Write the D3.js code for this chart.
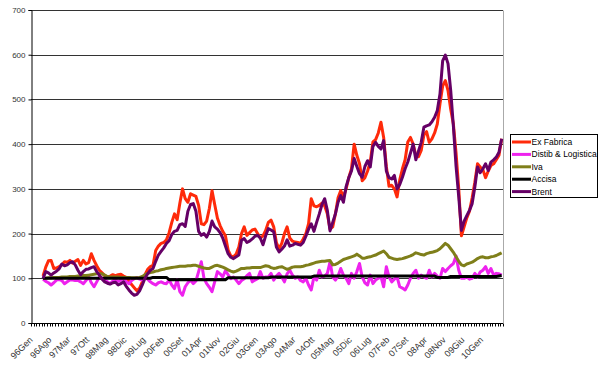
<!DOCTYPE html>
<html>
<head>
<meta charset="utf-8">
<script src="https://cdn.jsdelivr.net/npm/d3@7"></script>
<style>
  body { margin: 0; background: #fff; }
  svg text { font-family: "Liberation Sans", Arial, sans-serif; }
</style>
</head>
<body>
<div id="chart"></div>
<script>
// monthly index, 96Gen = 0, last month = 175 (10Ago)
var nMonths = 176;
var firstMonth = 4;

var tickLabels = ["96Gen","96Ago","97Mar","97Ott","98Mag","98Dic","99Lug","00Feb","00Set",
                  "01Apr","01Nov","02Giu","03Gen","03Ago","04Mar","04Ott","05Mag","05Dic",
                  "06Lug","07Feb","07Set","08Apr","08Nov","09Giu","10Gen"];
var yTicks = [0,100,200,300,400,500,600,700];

var seriesNames = ["Ex Fabrica","Distib & Logistica","Iva","Accisa","Brent"];
var seriesColors = ["#ff2a0a","#ee22ee","#7f7f1a","#000000","#660066"];

var exFabrica = [
 105,125,139,140,122,123,126,130,137,136,140,134,
 138,142,129,140,132,135,155,140,128,118,112,106,
 103,105,108,106,108,109,105,102,95,86,79,72,
 78,92,108,120,126,129,162,172,178,180,186,202,
 225,244,231,268,300,278,270,289,286,283,263,222,
 220,228,256,296,265,235,218,205,195,163,150,148,
 154,170,200,215,196,202,208,210,200,190,195,207,
 225,230,215,180,166,178,200,215,190,183,181,180,
 178,188,200,222,278,262,260,263,268,262,244,210,
 215,244,280,296,282,300,325,345,400,375,356,318,
 325,340,360,405,410,425,449,415,350,306,308,300,
 282,320,345,365,405,415,400,375,372,386,420,428,
 404,412,425,445,490,530,542,520,478,445,380,300,
 195,215,235,250,280,315,356,349,343,325,340,352,
 356,365,375,412];

var distib = [
 98,93,90,85,90,96,97,95,88,92,96,96,
 95,95,92,88,95,103,90,81,92,103,100,97,
 92,88,94,97,93,96,100,92,88,95,99,102,
 98,96,103,98,92,88,85,90,92,89,88,96,
 85,77,97,70,62,81,90,96,88,94,115,137,
 100,88,80,70,92,115,110,103,117,108,99,103,
 96,88,95,99,106,111,92,96,99,115,100,103,
 103,111,96,105,111,103,92,110,118,107,100,103,
 95,92,100,85,74,103,96,118,103,105,111,137,
 103,96,105,122,107,100,88,111,100,115,133,103,
 90,85,107,88,96,100,103,81,126,103,92,98,
 103,81,78,74,85,100,111,118,100,107,103,100,
 118,103,111,105,100,122,115,122,128,133,150,118,
 100,100,103,98,100,111,103,114,118,126,111,122,
 107,111,110,107];

var iva = [
 100,100,101,101,102,102,102,103,103,103,104,104,
 104,105,105,106,106,107,108,109,110,110,110,107,
 104,103,103,103,103,102,102,102,102,101,101,101,
 102,104,108,111,113,114,116,117,119,120,122,123,
 124,125,126,127,127,127,128,128,129,129,127,125,
 123,122,122,125,128,129,127,125,122,119,116,114,
 116,119,122,122,123,123,124,124,124,124,126,128,
 127,124,122,123,125,126,123,120,122,125,126,126,
 126,127,129,130,132,134,136,137,138,138,139,140,
 130,131,134,138,142,144,146,148,150,154,150,145,
 145,147,148,150,152,155,158,161,155,147,145,143,
 142,143,144,146,148,150,153,157,155,153,152,155,
 157,158,160,162,166,172,178,174,166,158,148,138,
 130,128,132,134,136,140,144,147,148,146,146,148,
 149,151,154,157];

var accisa = [
 100,100,100,100,100,100,100,100,100,100,100,100,
 100,100,100,100,100,100,100,100,100,100,100,100,
 100,100,100,100,100,100,100,100,100,100,100,100,
 100,100,100,100,100,102,102,102,102,102,102,97,
 97,97,97,97,97,97,97,97,97,97,97,97,
 97,97,97,97,97,97,97,97,97,101,101,101,
 101,101,101,101,101,101,101,101,101,101,101,101,
 101,103,103,103,103,103,103,103,103,103,103,103,
 103,103,103,103,103,105,105,105,105,105,105,105,
 105,105,105,105,105,105,105,105,105,105,105,105,
 105,105,105,105,105,105,105,105,105,105,105,105,
 105,105,105,105,105,105,105,105,105,105,105,105,
 105,105,105,102,102,102,102,102,104,104,104,104,
 104,104,104,104,104,104,104,104,104,104,104,104,
 104,104,105,106];

var brent = [
 100,115,112,107,112,116,121,132,128,130,135,137,
 130,118,108,115,120,121,124,126,115,107,98,92,
 89,87,90,91,85,88,92,82,74,67,62,64,
 72,85,100,110,118,122,138,152,160,168,178,184,
 198,205,207,220,222,216,250,265,267,250,205,196,
 200,192,205,228,215,210,202,190,172,155,147,144,
 148,152,185,189,180,183,188,194,196,190,175,195,
 211,208,204,170,159,165,172,186,172,174,178,176,
 174,180,194,210,222,205,225,244,265,278,252,206,
 225,244,270,285,270,305,325,340,368,350,334,326,
 350,363,349,395,404,395,389,408,340,325,322,330,
 300,310,326,345,360,380,400,365,385,404,438,441,
 443,450,460,475,512,586,599,580,520,440,350,282,
 207,228,240,252,267,304,349,336,345,356,341,360,
 365,371,382,412];

var seriesData = [exFabrica, distib, iva, accisa, brent];

var W = 604, H = 365;
var plotL = 31, plotR = 503, plotT = 10, plotB = 323;

var svg = d3.select("#chart").append("svg")
  .attr("width", W).attr("height", H);

var x = d3.scaleLinear().domain([-0.5, nMonths - 0.5]).range([plotL, plotR]);
var y = d3.scaleLinear().domain([0, 700]).range([plotB, plotT]);

// gridlines
svg.append("g").selectAll("line").data(yTicks.filter(function(d){ return d > 0; }))
  .enter().append("line")
  .attr("x1", plotL).attr("x2", plotR)
  .attr("y1", function(d){ return Math.round(y(d)) + 0.5; })
  .attr("y2", function(d){ return Math.round(y(d)) + 0.5; })
  .attr("stroke", "#333").attr("stroke-width", 1);

// right border of plot area
svg.append("line")
  .attr("x1", plotR + 0.5).attr("x2", plotR + 0.5)
  .attr("y1", Math.round(y(700)) + 0.5).attr("y2", plotB)
  .attr("stroke", "#aaa");

// y axis
var yAxis = d3.axisLeft(y).tickValues(yTicks).tickSize(3).tickPadding(3)
  .tickFormat(d3.format("d"));
var gy = svg.append("g").attr("transform", "translate(" + (plotL + 0.5) + ",0)").call(yAxis);
gy.select(".domain").attr("stroke", "#000");
gy.selectAll("text").attr("font-size", 8).attr("fill", "#333")
  .attr("font-family", "Liberation Sans, Arial, sans-serif");

// x axis: ticks at category boundaries
var bounds = d3.range(nMonths + 1).map(function(k){ return k - 0.5; });
var gx = svg.append("g").attr("transform", "translate(0," + (Math.round(plotB) + 0.5) + ")");
gx.append("line").attr("x1", plotL).attr("x2", plotR).attr("stroke", "#000");
gx.selectAll("line.tk").data(bounds).enter().append("line").attr("class", "tk")
  .attr("x1", function(d){ return Math.round(x(d)) + 0.5; })
  .attr("x2", function(d){ return Math.round(x(d)) + 0.5; })
  .attr("y1", 0).attr("y2", 3).attr("stroke", "#000");
gx.selectAll("text.lbl").data(tickLabels).enter().append("text").attr("class", "lbl")
  .attr("transform", function(d, i){
    return "translate(" + (x(i * 7) + 1) + ",17) rotate(-45)";
  })
  .attr("text-anchor", "end")
  .attr("font-size", 9).attr("fill", "#333")
  .text(function(d){ return d; });

// lines
var line = d3.line()
  .x(function(d, i){ return x(firstMonth + i); })
  .y(function(d){ return y(d); });

svg.append("g").selectAll("path").data(seriesData).enter().append("path")
  .attr("d", line)
  .attr("fill", "none")
  .attr("stroke", function(d, i){ return seriesColors[i]; })
  .attr("stroke-width", 3)
  .attr("stroke-linejoin", "round");

// legend
var lg = svg.append("g").attr("transform", "translate(510.5,134.5)");
lg.append("rect").attr("width", 87).attr("height", 63)
  .attr("fill", "#fff").attr("stroke", "#000");
var items = lg.selectAll("g").data(seriesNames).enter().append("g")
  .attr("transform", function(d, i){ return "translate(0," + (7.5 + i * 12.4) + ")"; });
items.append("line").attr("x1", 1.5).attr("x2", 20.5)
  .attr("stroke", function(d, i){ return seriesColors[i]; })
  .attr("stroke-width", 3);
items.append("text").attr("x", 21).attr("dy", "0.35em")
  .attr("font-size", 8.5).attr("fill", "#000")
  .text(function(d){ return d; });
</script>
</body>
</html>
